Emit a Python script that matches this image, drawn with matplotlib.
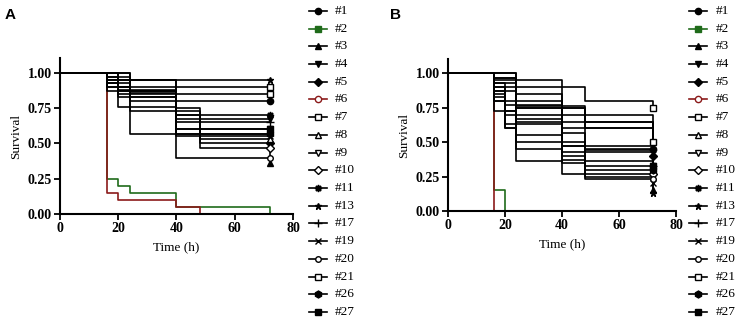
import matplotlib
matplotlib.use("Agg")
import matplotlib.pyplot as plt
from matplotlib.lines import Line2D

# ---------------- data ----------------
labels = ['#1', '#2', '#3', '#4', '#5', '#6', '#7', '#8', '#9', '#10',
          '#11', '#13', '#17', '#19', '#20', '#21', '#26', '#27']

# Panel A: event times and survival after each event (censored at 72 h)
A_times = [
    [16, 20, 40],            # 1
    [16, 20, 24, 40, 72],    # 2
    [16, 24, 40, 72],        # 3
    [16, 24, 40],            # 4
    [16, 20, 40, 48],        # 5
    [16, 20, 40, 48],        # 6
    [16, 24, 40],            # 7
    [16, 24, 40, 48],        # 8
    [20, 24, 40],            # 9
    [16, 20, 40, 48],        # 10
    [16, 24, 40],            # 11
    [24],                    # 13
    [16, 24, 40],            # 17
    [20, 24, 40],            # 19
    [16, 20, 40],            # 20
    [16, 20, 40],            # 21
    [24],                    # 26
    [16, 20, 40],            # 27
]
A_surv = [
    [0.95, 0.90, 0.80],
    [0.25, 0.20, 0.15, 0.05, 0.0],
    [0.87, 0.73, 0.57, 0.36],
    [0.93, 0.83, 0.67],
    [0.90, 0.83, 0.75, 0.50],
    [0.15, 0.10, 0.05, 0.0],
    [0.97, 0.95, 0.90],
    [0.95, 0.87, 0.73, 0.53],
    [0.85, 0.80, 0.60],
    [0.93, 0.76, 0.70, 0.47],
    [0.95, 0.87, 0.70],
    [0.95],
    [0.90, 0.85, 0.65],
    [0.90, 0.86, 0.55],
    [0.97, 0.95, 0.40],
    [0.93, 0.88, 0.85],
    [0.57],
    [0.95, 0.87, 0.60],
]

# Panel B
B_times = [
    [16, 24, 40, 48],            # 1
    [16, 20],                    # 2
    [16, 20, 24, 40, 72],        # 3
    [16, 20, 24, 40, 48],        # 4
    [16, 24, 48, 72],            # 5
    [16],                        # 6
    [16, 24, 48, 72],            # 7
    [16, 20, 24, 40, 48],        # 8
    [16, 20, 24, 40, 48],        # 9
    [16, 20, 24, 40, 48],        # 10
    [16, 20, 24, 40, 48],        # 11
    [16, 24, 40, 48, 72],        # 13
    [16, 24, 40, 72],            # 17
    [16, 20, 24, 40, 48, 72],    # 19
    [16, 20, 24, 40, 48],        # 20
    [24, 48, 72],                # 21
    [24, 40, 72],                # 26
    [16, 20, 24, 48, 72],        # 27
]
B_surv = [
    [0.95, 0.85, 0.75, 0.45],
    [0.15, 0.0],
    [0.87, 0.73, 0.63, 0.47, 0.15],
    [0.90, 0.80, 0.65, 0.40, 0.33],
    [0.93, 0.75, 0.60, 0.40],
    [0.0],
    [0.97, 0.76, 0.70, 0.50],
    [0.83, 0.60, 0.50, 0.43, 0.30],
    [0.85, 0.70, 0.55, 0.37, 0.25],
    [0.80, 0.63, 0.45, 0.35, 0.27],
    [0.93, 0.87, 0.75, 0.57, 0.44],
    [0.90, 0.77, 0.50, 0.43, 0.13],
    [0.97, 0.80, 0.60, 0.33],
    [0.87, 0.77, 0.67, 0.47, 0.36, 0.20],
    [0.73, 0.60, 0.36, 0.27, 0.23],
    [0.90, 0.80, 0.75],
    [0.95, 0.65, 0.30],
    [0.80, 0.73, 0.70, 0.65, 0.33],
]

END_TIME = 72

# ---------------- styles ----------------
GREEN = '#1f6b1a'
RED = '#8b1a1a'
colors = ['black'] * len(labels)
colors[1] = GREEN
colors[5] = RED
markers = ['o', 's', '^', 'v', 'D', 'o', 's', '^', 'v', 'D',
           (8, 1, 0), '*', '+', 'x', 'o', 's', 'h', 's']
filled = [True, True, True, True, True, False, False, False, False, False,
          True, True, True, True, False, False, True, True]
msizes = [4.5, 4.5, 4.5, 4.5, 4.5, 4.5, 5, 5, 5, 4.5, 5, 5, 6, 4.5, 4, 5, 5, 5]

serif = 'Liberation Serif'
fig = plt.figure(figsize=(7.43, 3.24), dpi=100)
W, H = 743, 324


def draw_panel(ax, times, survs):
    order = [1, 5] + [i for i in range(len(labels)) if i not in (1, 5)]
    for i in order:
        t = [0] + list(times[i])
        s = [1.0] + list(survs[i])
        if s[-1] > 0:
            t = t + [END_TIME]
            s = s + [s[-1]]
        z = 2 if colors[i] != 'black' else 3
        ax.step(t, s, where='post', color=colors[i], lw=1.2, zorder=z)
        if s[-1] > 0:
            mfc = colors[i] if filled[i] else 'white'
            ax.plot([t[-1]], [s[-1]], marker=markers[i], ms=msizes[i],
                    mfc=mfc, mec=colors[i], mew=1.0, ls='none', zorder=4)
    ax.set_xlim(0, 80)
    ax.set_ylim(0, 1.105)
    ax.set_xticks([0, 20, 40, 60, 80])
    ax.set_yticks([0, 0.25, 0.5, 0.75, 1.0])
    ax.set_yticklabels(['0.00', '0.25', '0.50', '0.75', '1.00'])
    for sp in ['top', 'right']:
        ax.spines[sp].set_visible(False)
    for sp in ['left', 'bottom']:
        ax.spines[sp].set_linewidth(1.5)
    ax.tick_params(direction='out', length=4, width=1.3, pad=2)
    for lab in ax.get_xticklabels() + ax.get_yticklabels():
        lab.set_fontfamily(serif)
        lab.set_fontweight('bold')
        lab.set_fontsize(10)
    ax.set_xlabel('Time (h)', fontfamily=serif, fontsize=9.5, labelpad=4)
    ax.set_ylabel('Survival', fontfamily=serif, fontsize=9.5, labelpad=4)


def draw_legend(x_line, x_text):
    for i, lab in enumerate(labels):
        yp = 11 + i * 17.7
        yf = 1 - yp / H
        x0, x1 = x_line / W, (x_line + 18) / W
        fig.add_artist(Line2D([x0, x1], [yf, yf], color=colors[i], lw=1.2,
                              transform=fig.transFigure))
        mfc = colors[i] if filled[i] else 'white'
        fig.add_artist(Line2D([(x0 + x1) / 2], [yf], marker=markers[i],
                              ms=msizes[i], mfc=mfc, mec=colors[i], mew=1.0,
                              ls='none', transform=fig.transFigure))
        fig.text(x_text / W, yf, lab, fontfamily=serif, fontsize=9.5,
                 va='center', ha='left')


# Panel A
axA = fig.add_axes([60 / W, 1 - 214 / H, (293 - 60) / W, (214 - 58) / H])
draw_panel(axA, A_times, A_surv)
# Panel B
axB = fig.add_axes([448 / W, 1 - 211 / H, (676 - 448) / W, (211 - 59) / H])
draw_panel(axB, B_times, B_surv)

draw_legend(309, 335)
draw_legend(689, 716)

fig.text(5 / W, 1 - 15 / H, 'A', fontfamily='Liberation Sans',
         fontweight='bold', fontsize=11, va='center')
fig.text(390 / W, 1 - 15 / H, 'B', fontfamily='Liberation Sans',
         fontweight='bold', fontsize=11, va='center')

fig.savefig('out.png', dpi=100)
